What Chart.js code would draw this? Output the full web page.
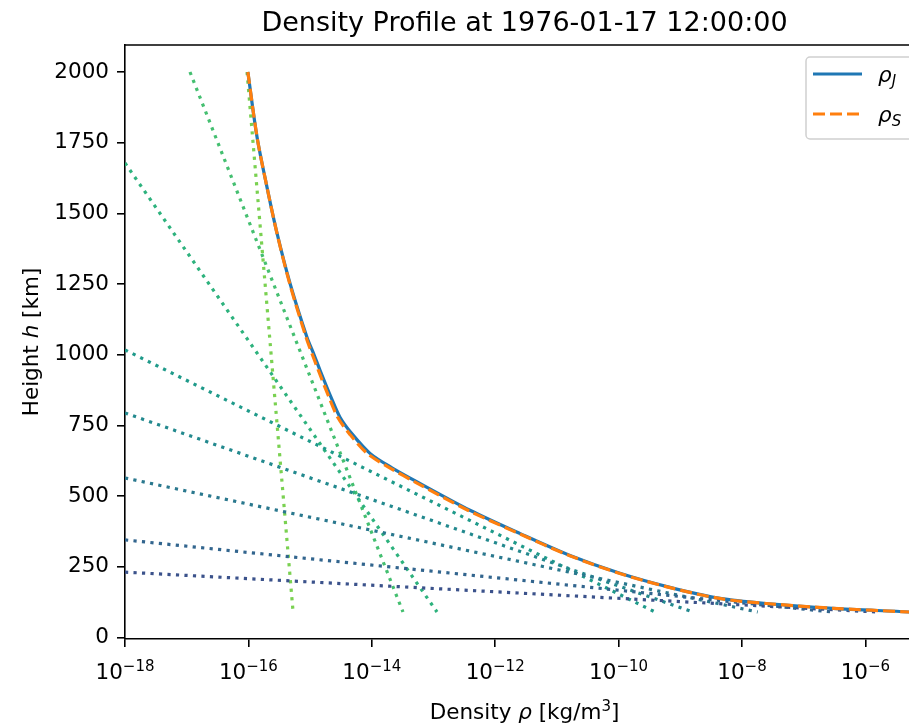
<!DOCTYPE html>
<html>
<head>
<meta charset="utf-8">
<title>Density Profile</title>
<script src="https://cdn.jsdelivr.net/npm/chart.js@4.4.0/dist/chart.umd.min.js"></script>
<style>
  html, body { margin: 0; padding: 0; background: #fff; overflow: hidden; }
  #wrap { width: 940px; height: 724px; }
</style>
</head>
<body>
<div id="wrap"><canvas id="density-chart" width="940" height="724"></canvas></div>
<script>
// Density profile (heights in km, densities in kg/m^3)
const heights = [2000, 1770, 1593, 1430, 1253, 1062, 1000, 945, 850, 779, 720, 651, 600, 545, 450, 368, 290, 227, 177, 138, 120, 103, 90, 86];
const rhoJ = [9.8e-17, 1.38e-16, 2.0e-16, 2.91e-16, 4.72e-16, 8.9e-16, 1.16e-15, 1.45e-15, 2.18e-15, 3.05e-15, 4.78e-15, 9.35e-15,
              2.12e-14, 6.0e-14, 3.9e-13, 2.5e-12, 1.63e-11, 1.05e-10, 6.8e-10, 4.4e-9, 2.5e-8, 3.0e-7, 5.1e-6, 9.0e-6];
const rhoS = [9.8e-17, 1.38e-16, 2.0e-16, 2.9e-16, 4.65e-16, 8.6e-16, 1.09e-15, 1.36e-15, 2.02e-15, 2.8e-15, 4.35e-15, 8.4e-15,
              1.95e-14, 5.5e-14, 3.6e-13, 2.4e-12, 1.58e-11, 1.02e-10, 6.6e-10, 4.3e-9, 2.5e-8, 3.0e-7, 5.1e-6, 9.0e-6];

// Dotted exponential fits: upper end and lower end of each straight segment
const fitRhoUpper = [1e-18, 1e-18, 1e-18, 1e-18, 1e-18, 1e-18, 1.13e-17, 9.5e-17];
const fitHUpper   = [231, 345, 564, 794, 1017, 1678, 2000, 2000];
const fitRhoLower = [1.5e-6, 2.9e-7, 1.8e-8, 1.6e-9, 3.9e-10, 1.14e-13, 3.2e-14, 5.3e-16];
const fitHLower   = [90, 90, 90, 90, 90, 90, 90, 90];
const fitColors   = ['#3b528b', '#32658e', '#2a788e', '#23898e', '#1f9a8a', '#2db27d', '#44bf70', '#7ad151'];

// Axes
const xTickExponents = [-18, -16, -14, -12, -10, -8, -6];
const yTicks = [0, 250, 500, 750, 1000, 1250, 1500, 1750, 2000];
const titleText = 'Density Profile at 1976-01-17 12:00:00';
const legendItems = [
  { base: 'ρ', sub: 'J', color: '#1f77b4', dash: [] },
  { base: 'ρ', sub: 'S', color: '#ff7f0e', dash: [12, 5] }
];

const FONT = '"DejaVu Sans", sans-serif';
const SIZE = 21.5;
const SUP = 15;

function drawRuns(ctx, runs, x, y, align) {
  let total = 0;
  runs.forEach(r => { ctx.font = r.font; r.w = ctx.measureText(r.text).width; total += r.w; });
  let cx = align === 'center' ? x - total / 2 : x;
  ctx.textAlign = 'left';
  runs.forEach(r => {
    ctx.font = r.font;
    ctx.fillText(r.text, cx, y + (r.dy || 0));
    cx += r.w;
  });
}

const normal = `${SIZE}px ${FONT}`;
const italic = `italic ${SIZE}px ${FONT}`;

const decorations = {
  id: 'decorations',
  afterDraw(chart) {
    const { ctx, chartArea: a, scales } = chart;
    ctx.save();
    ctx.fillStyle = '#000';
    ctx.textBaseline = 'alphabetic';

    // top and right spines
    ctx.strokeStyle = '#000';
    ctx.lineWidth = 1.6;
    ctx.beginPath();
    ctx.moveTo(a.left, a.top);
    ctx.lineTo(a.right, a.top);
    ctx.lineTo(a.right, a.bottom);
    ctx.stroke();

    const cx = (a.left + a.right) / 2;
    const cy = (a.top + a.bottom) / 2;

    // title
    ctx.font = `27px ${FONT}`;
    ctx.textAlign = 'center';
    ctx.fillText(titleText, cx, 31);

    // x tick labels as powers of ten
    xTickExponents.forEach(e => {
      const px = scales.x.getPixelForValue(Math.pow(10, e));
      const exp = '\u2212' + Math.abs(e);
      drawRuns(ctx, [
        { text: '10', font: normal },
        { text: exp, font: `${SUP}px ${FONT}`, dy: -8 }
      ], px, a.bottom + 40, 'center');
    });

    // x axis label
    drawRuns(ctx, [
      { text: 'Density ', font: normal },
      { text: 'ρ', font: italic },
      { text: ' [kg/m', font: normal },
      { text: '3', font: `${SUP}px ${FONT}`, dy: -8 },
      { text: ']', font: normal }
    ], cx, 719, 'center');

    // y axis label
    ctx.save();
    ctx.translate(38, cy);
    ctx.rotate(-Math.PI / 2);
    drawRuns(ctx, [
      { text: 'Height ', font: normal },
      { text: 'h', font: italic },
      { text: ' [km]', font: normal }
    ], 0, 0, 'center');
    ctx.restore();

    // legend
    const bx = a.right - 118, by = a.top + 12, bw = 107, bh = 82;
    ctx.globalAlpha = 0.8;
    ctx.fillStyle = '#fff';
    ctx.beginPath();
    ctx.roundRect(bx, by, bw, bh, 4);
    ctx.fill();
    ctx.globalAlpha = 1;
    ctx.strokeStyle = '#d0d0d0';
    ctx.lineWidth = 1.5;
    ctx.stroke();
    legendItems.forEach((item, i) => {
      const ly = by + 17 + i * 40;
      ctx.strokeStyle = item.color;
      ctx.lineWidth = 3.2;
      ctx.setLineDash(item.dash);
      ctx.beginPath();
      ctx.moveTo(bx + 7, ly);
      ctx.lineTo(bx + 56, ly);
      ctx.stroke();
      ctx.setLineDash([]);
      ctx.fillStyle = '#000';
      drawRuns(ctx, [
        { text: item.base, font: italic },
        { text: item.sub, font: `italic ${SUP}px ${FONT}`, dy: 4 }
      ], bx + 72, ly + 8, 'left');
    });

    ctx.restore();
  }
};

const datasets = [
  {
    label: 'rhoS',
    data: heights.map((h, i) => ({ x: rhoS[i], y: h })),
    borderColor: '#ff7f0e',
    borderWidth: 3.2,
    borderDash: [12, 5],
    tension: 0.3,
    order: 0
  },
  {
    label: 'rhoJ',
    data: heights.map((h, i) => ({ x: rhoJ[i], y: h })),
    borderColor: '#1f77b4',
    borderWidth: 3.2,
    tension: 0.3,
    order: 1
  }
];
fitRhoUpper.forEach((r, i) => {
  datasets.push({
    label: 'fit ' + i,
    data: [{ x: r, y: fitHUpper[i] }, { x: fitRhoLower[i], y: fitHLower[i] }],
    borderColor: fitColors[i],
    borderWidth: 3.2,
    borderDash: [3.2, 5.3],
    order: 2
  });
});

const axisGrid = { drawOnChartArea: false, drawTicks: true, tickLength: 8, color: '#000', lineWidth: 1.6 };
const axisBorder = { display: true, color: '#000', width: 1.6 };

new Chart(document.getElementById('density-chart').getContext('2d'), {
  type: 'line',
  data: { datasets },
  options: {
    responsive: false,
    animation: false,
    layout: { padding: { top: 45, right: 16, left: 0, bottom: 0 } },
    elements: { point: { radius: 0 } },
    plugins: {
      legend: { display: false },
      tooltip: { enabled: false },
      title: { display: false }
    },
    scales: {
      x: {
        type: 'logarithmic',
        min: 1e-18,
        max: Math.pow(10, -5.05),
        afterBuildTicks: s => { s.ticks = xTickExponents.map(e => ({ value: Math.pow(10, e) })); },
        afterFit: s => { s.height = 85; },
        grid: axisGrid,
        border: axisBorder,
        ticks: { display: false }
      },
      y: {
        type: 'linear',
        min: -5.5,
        max: 2095.5,
        afterBuildTicks: s => { s.ticks = yTicks.map(v => ({ value: v })); },
        afterFit: s => { s.width = 125; },
        grid: axisGrid,
        border: axisBorder,
        ticks: {
          color: '#000',
          font: { family: FONT, size: SIZE },
          padding: 8,
          callback: v => String(v)
        }
      }
    }
  },
  plugins: [decorations]
});
</script>
</body>
</html>
